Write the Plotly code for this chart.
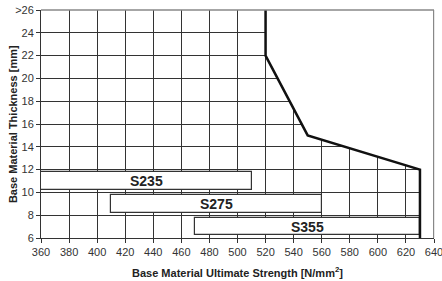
import plotly.graph_objects as go

grades = ["S235", "S275", "S355"]
thickness_center = [11, 9, 7]
strength_min = [360, 410, 470]
strength_max = [510, 560, 630]

boundary_strength = [520, 520, 550, 630, 630]
boundary_thickness = [26, 22, 15, 12, 6]

x_ticks = list(range(360, 641, 20))
y_ticks = [6, 8, 10, 12, 14, 16, 18, 20, 22, 24, 26]
y_ticktext = ["6", "8", "10", "12", "14", "16", "18", "20", "22", "24", ">26"]

X_MIN, X_MAX = 360, 640
Y_MIN, Y_MAX = 6, 26

FONT = "Liberation Sans, Arial, sans-serif"

fig = go.Figure()

# white mask: hides grid to the right of the boundary line
mask_x = boundary_strength + [X_MAX, X_MAX]
mask_y = boundary_thickness + [Y_MIN, Y_MAX]
fig.add_trace(go.Scatter(
    x=mask_x, y=mask_y, mode="lines", fill="toself",
    fillcolor="white", line=dict(width=0, color="white"),
    hoverinfo="skip", showlegend=False))

fig.add_trace(go.Bar(
    orientation="h",
    y=thickness_center,
    base=strength_min,
    x=[b - a for a, b in zip(strength_min, strength_max)],
    width=1.55,
    marker=dict(color="white", line=dict(color="#333333", width=1.2)),
    hoverinfo="skip",
    showlegend=False))

fig.add_trace(go.Scatter(
    x=boundary_strength, y=boundary_thickness, mode="lines",
    line=dict(color="#111111", width=2.5),
    showlegend=False))

annotations = []
for g, yc, a, b in zip(grades, thickness_center, strength_min, strength_max):
    annotations.append(dict(
        x=(a + b) / 2, y=yc, xref="x", yref="y", text=g, showarrow=False,
        xanchor="center", yanchor="middle",
        font=dict(family=FONT, size=14, color="#222222", weight="bold")))

annotations.append(dict(
    x=0.5, y=-0.149, xref="paper", yref="paper",
    text="Base Material Ultimate Strength [N/mm<sup>2</sup>]",
    showarrow=False, xanchor="center", yanchor="middle",
    font=dict(family=FONT, size=11, color="#222222", weight="bold")))
annotations.append(dict(
    x=-0.071, y=0.5, xref="paper", yref="paper",
    text="Base Material Thickness [mm]", textangle=-90,
    showarrow=False, xanchor="center", yanchor="middle",
    font=dict(family=FONT, size=11, color="#222222", weight="bold")))

fig.update_layout(
    width=442, height=281,
    margin=dict(l=41, r=8, t=10, b=43),
    paper_bgcolor="white", plot_bgcolor="white",
    font=dict(family=FONT, size=11, color="#333333"),
    bargap=0,
    annotations=annotations,
    shapes=[
        dict(type="line", xref="paper", yref="paper", x0=0, x1=1, y0=1, y1=1,
             line=dict(color="#888888", width=1.5), layer="above"),
        dict(type="line", xref="paper", yref="paper", x0=0.999, x1=0.999, y0=0, y1=1,
             line=dict(color="#888888", width=1.2), layer="above"),
    ],
)

fig.update_xaxes(
    range=[X_MIN, X_MAX], tickvals=x_ticks, ticks="outside", ticklen=4,
    tickcolor="#333333", showline=True, linecolor="#333333", linewidth=1,
    showgrid=True, gridcolor="#333333", gridwidth=1, zeroline=False,
    tickfont=dict(size=11, color="#333333"), automargin=False,
    ticklabeloverflow="allow",
)
fig.update_yaxes(
    range=[Y_MIN, Y_MAX], tickvals=y_ticks, ticktext=y_ticktext,
    ticks="outside", ticklen=4, tickcolor="#333333",
    showline=True, linecolor="#333333", linewidth=1,
    showgrid=True, gridcolor="#333333", gridwidth=1, zeroline=False,
    tickfont=dict(size=11, color="#333333"), automargin=False,
    ticklabeloverflow="allow",
)

fig.write_html(
    "out.html",
    config={"displayModeBar": False},
    post_script="document.body.style.margin='0px';document.body.style.overflow='hidden';",
)
